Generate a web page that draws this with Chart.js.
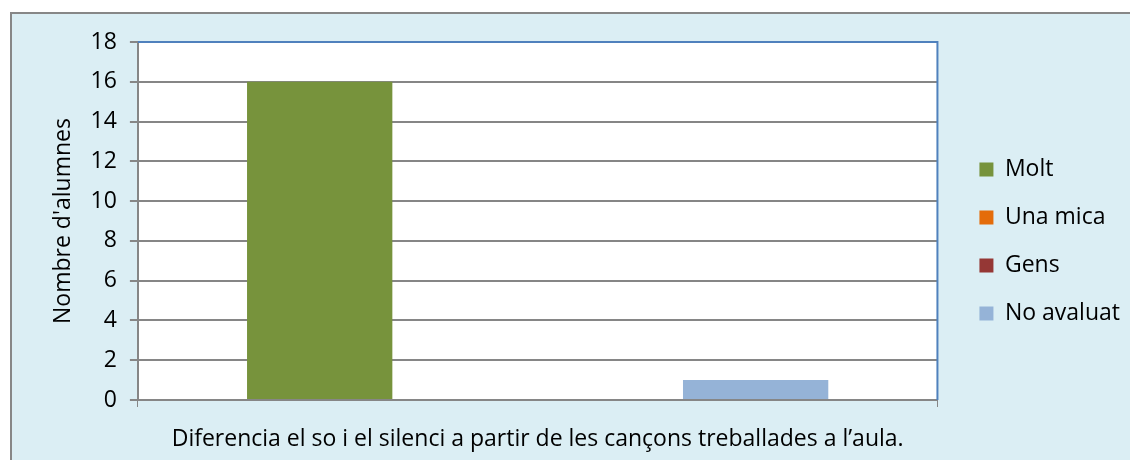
<!DOCTYPE html>
<html>
<head>
<meta charset="utf-8">
<script src="https://cdn.jsdelivr.net/npm/chart.js@4/dist/chart.umd.min.js"></script>
<style>
  html, body { margin: 0; padding: 0; background: #fff; }
  #wrap { width: 1130px; height: 460px; position: relative; }
</style>
</head>
<body>
<div id="wrap"><canvas id="chart" width="1130" height="460"></canvas></div>
<script>
// Data
const categories = ['Diferencia el so i el silenci a partir de les cançons treballades a l\u2019aula.'];
const seriesNames = ['Molt', 'Una mica', 'Gens', 'No avaluat'];
const molt = [16];
const unaMica = [0];
const gens = [0];
const noAvaluat = [1];
const yTicks = [0, 2, 4, 6, 8, 10, 12, 14, 16, 18];

const colors = ['#77933C', '#E46C0A', '#953735', '#95B3D7'];
const fontFamily = '"Open Sans", Lato, sans-serif';
const fontSize = 23;

// Background frame and plot area fill
const framePlugin = {
  id: 'frame',
  beforeDraw(chart) {
    const ctx = chart.ctx;
    const area = chart.chartArea;
    ctx.save();
    ctx.fillStyle = '#ffffff';
    ctx.fillRect(0, 0, chart.width, chart.height);
    ctx.fillStyle = '#DBEEF4';
    ctx.fillRect(10, 12, chart.width - 10, chart.height - 12);
    ctx.strokeStyle = '#878787';
    ctx.lineWidth = 2;
    ctx.beginPath();
    ctx.moveTo(11, chart.height);
    ctx.lineTo(11, 13);
    ctx.lineTo(chart.width, 13);
    ctx.stroke();
    ctx.fillStyle = '#ffffff';
    ctx.fillRect(area.left, area.top, area.right - area.left, area.bottom - area.top);
    ctx.restore();
  },
  afterDatasetsDraw(chart) {
    const ctx = chart.ctx;
    const area = chart.chartArea;
    ctx.save();
    ctx.strokeStyle = '#4F81BD';
    ctx.lineWidth = 2;
    ctx.beginPath();
    ctx.moveTo(area.left, area.top);
    ctx.lineTo(area.right, area.top);
    ctx.lineTo(area.right, area.bottom);
    ctx.stroke();
    ctx.restore();
  }
};

// invisible spacer axis, only reserves room
function spacer(position, size) {
  return {
    type: 'linear',
    position: position,
    display: true,
    grid: { display: false },
    border: { display: false },
    ticks: { display: false },
    afterFit: s => {
      if (s.isHorizontal()) s.height = size; else s.width = size;
    }
  };
}

const ctx = document.getElementById('chart').getContext('2d');
new Chart(ctx, {
  type: 'bar',
  data: {
    labels: categories,
    datasets: [
      { label: seriesNames[0], data: molt, backgroundColor: colors[0] },
      { label: seriesNames[1], data: unaMica, backgroundColor: colors[1] },
      { label: seriesNames[2], data: gens, backgroundColor: colors[2] },
      { label: seriesNames[3], data: noAvaluat, backgroundColor: colors[3] }
    ]
  },
  options: {
    responsive: false,
    animation: false,
    layout: { padding: { top: 23, left: 50, right: 0, bottom: 0 } },
    datasets: {
      bar: { categoryPercentage: 0.727, barPercentage: 1.0, xAxisID: 'x', yAxisID: 'y' }
    },
    plugins: {
      legend: {
        position: 'right',
        labels: {
          boxWidth: 14,
          boxHeight: 14,
          padding: 25,
          color: '#000',
          font: { family: fontFamily, size: fontSize }
        }
      },
      tooltip: { enabled: false }
    },
    scales: {
      x: {
        grid: { display: true, drawOnChartArea: false, drawTicks: true, tickLength: 7, color: '#868686', offset: true },
        border: { color: '#868686', width: 2 },
        ticks: { color: '#000', font: { family: fontFamily, size: fontSize }, padding: 19 },
        afterFit: s => { s.height = 60; }
      },
      y: {
        min: 0,
        max: 18,
        afterBuildTicks: s => { s.ticks = yTicks.map(v => ({ value: v })); },
        grid: { color: '#868686', lineWidth: 2, tickLength: 8 },
        border: { color: '#868686', width: 2 },
        ticks: { color: '#000', font: { family: fontFamily, size: fontSize }, padding: 13 },
        title: {
          display: true,
          text: "Nombre d'alumnes",
          color: '#000',
          font: { family: fontFamily, size: fontSize },
          padding: 0
        }
      },
      gapTop: spacer('top', 19),
      gapRight: spacer('right', 17)
    }
  },
  plugins: [framePlugin]
});
</script>
</body>
</html>
